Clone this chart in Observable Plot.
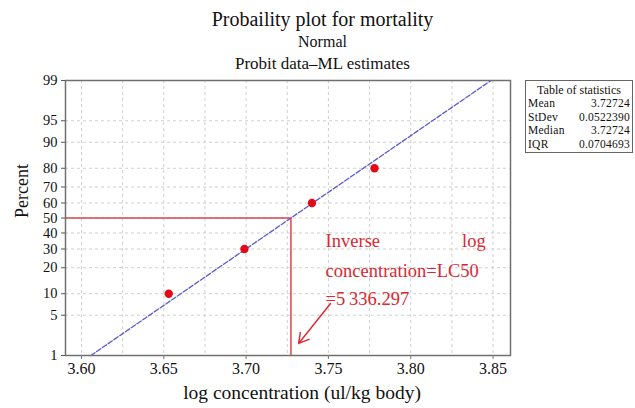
<!DOCTYPE html>
<html>
<head>
<meta charset="utf-8">
<script src="https://cdn.jsdelivr.net/npm/d3@7"></script>
<script src="https://cdn.jsdelivr.net/npm/@observablehq/plot@0.6"></script>
<style>
  body { margin: 0; background: #fff; }
  #wrap { position: relative; width: 635px; height: 408px; font-family: "Liberation Serif", serif; color: #111; }
  .t { position: absolute; left: 5px; width: 635px; text-align: center; white-space: nowrap; }
  #stats { position: absolute; left: 525px; top: 80px; width: 102px; height: 68px; border: 1.5px solid #666; padding: 3px 2px 0px 2px; font-size: 11.5px; line-height: 13.4px; letter-spacing: 0.25px; }
  #stats .row { display: flex; justify-content: space-between; }
  #stats .head { text-align: center; letter-spacing: 0; font-size: 12px; }
</style>
</head>
<body>
<div id="wrap">
  <div id="chart"></div>
</div>
<script>
// ---- data ----
const logConc = [3.653, 3.699, 3.740, 3.778];
const mortalityPct = [10, 30, 60, 80];
const yTickPct = [1, 5, 10, 20, 30, 40, 50, 60, 70, 80, 90, 95, 99];
const xTickValues = [3.60, 3.65, 3.70, 3.75, 3.80, 3.85];
const xGridValues = [3.60, 3.625, 3.65, 3.675, 3.70, 3.725, 3.75, 3.775, 3.80, 3.825, 3.85];
const statNames = ["Mean", "StDev", "Median", "IQR"];
const statValues = ["3.72724", "0.0522390", "3.72724", "0.0704693"];
const fitMean = 3.72724;
const fitSd = 0.0522390;
const titleLines = ["Probaility plot for mortality", "Normal", "Probit data\u2013ML estimates"];
const annotationLeft = ["Inverse", "concentration=LC50", "=5\u2009336.297"];
const annotationLeftPct = [34.5, 18.3, 8.4];
const annotationRight = ["log"];
const annotationRightPct = [34.5];
const annotationX1 = 3.7483;
const annotationX2 = 3.8455;
const arrowFrom = {x: 3.7513, pct: 7.4};
const arrowTo = {x: 3.7319, pct: 1.69};

// inverse normal CDF (Acklam)
function probit(p) {
  const a = [-3.969683028665376e+01, 2.209460984245205e+02, -2.759285104469687e+02, 1.383577518672690e+02, -3.066479806614716e+01, 2.506628277459239e+00];
  const b = [-5.447609879822406e+01, 1.615858368580409e+02, -1.556989798598866e+02, 6.680131188771972e+01, -1.328068155288572e+01];
  const c = [-7.784894002430293e-03, -3.223964580411365e-01, -2.400758277161838e+00, -2.549732539343734e+00, 4.374664141464968e+00, 2.938163982698783e+00];
  const d = [7.784695709041462e-03, 3.224671290700398e-01, 2.445134137142996e+00, 3.754408661907416e+00];
  const pl = 0.02425, ph = 1 - pl;
  let q, r;
  if (p < pl) {
    q = Math.sqrt(-2 * Math.log(p));
    return (((((c[0]*q+c[1])*q+c[2])*q+c[3])*q+c[4])*q+c[5]) / ((((d[0]*q+d[1])*q+d[2])*q+d[3])*q+1);
  } else if (p <= ph) {
    q = p - 0.5; r = q*q;
    return (((((a[0]*r+a[1])*r+a[2])*r+a[3])*r+a[4])*r+a[5])*q / (((((b[0]*r+b[1])*r+b[2])*r+b[3])*r+b[4])*r+1);
  } else {
    q = Math.sqrt(-2 * Math.log(1 - p));
    return -(((((c[0]*q+c[1])*q+c[2])*q+c[3])*q+c[4])*q+c[5]) / ((((d[0]*q+d[1])*q+d[2])*q+d[3])*q+1);
  }
}
const z = pct => probit(pct / 100);

const points = logConc.map((x, i) => ({x, z: z(mortalityPct[i])}));
const zLo = z(1), zHi = z(99);
const fitLine = [zLo, zHi].map(zz => ({x: fitMean + fitSd * zz, z: zz}));
const xDomain = [3.5903, 3.8606];
const yTickZ = yTickPct.map(z);
const labelOf = new Map(yTickZ.map((v, i) => [v, String(yTickPct[i])]));
const leftNotes = annotationLeft.map((t, i) => ({t, z: z(annotationLeftPct[i])}));
const rightNotes = annotationRight.map((t, i) => ({t, z: z(annotationRightPct[i])}));

const red = "#dc2630";
const ruleRed = "#d9464c";
const noteStyle = {fill: red, fontSize: 18.5, fontFamily: "Liberation Serif, serif"};

const chart = Plot.plot({
  width: 635,
  height: 408,
  marginTop: 80,
  marginBottom: 53,
  marginLeft: 65,
  marginRight: 125,
  style: {fontFamily: "Liberation Serif, serif", fontSize: "16px", color: "#111", background: "transparent"},
  x: {domain: xDomain},
  y: {domain: [zLo, zHi]},
  marks: [
    Plot.ruleX(xGridValues, {stroke: "#cfcfcf", strokeDasharray: "3,3", strokeWidth: 1}),
    Plot.ruleY(yTickZ, {stroke: "#cfcfcf", strokeDasharray: "3,3", strokeWidth: 1}),
    Plot.line(fitLine, {x: "x", y: "z", stroke: "#5a5ad0", strokeWidth: 1.3, strokeDasharray: "5,2"}),
    Plot.ruleY([z(50)], {x1: xDomain[0], x2: fitMean, stroke: ruleRed, strokeWidth: 1.5}),
    Plot.ruleX([fitMean], {y1: zLo, y2: z(50), stroke: ruleRed, strokeWidth: 1.5}),
    Plot.dot(points, {x: "x", y: "z", r: 4.2, fill: "#e30a17", stroke: "none"}),
    Plot.text(leftNotes, {x: () => annotationX1, y: "z", text: "t", textAnchor: "start", ...noteStyle}),
    Plot.text(rightNotes, {x: () => annotationX2, y: "z", text: "t", textAnchor: "end", ...noteStyle}),
    Plot.arrow([0], {x1: arrowFrom.x, y1: z(arrowFrom.pct), x2: arrowTo.x, y2: z(arrowTo.pct), stroke: red, strokeWidth: 1.4, headLength: 12}),
    Plot.frame({stroke: "#707070", strokeWidth: 1.5}),
    Plot.axisX(xTickValues, {tickFormat: d3.format(".2f"), tickSize: 4, tickPadding: 3, stroke: "#777", fontSize: 16, label: null}),
    Plot.axisY(yTickZ, {tickFormat: v => labelOf.get(v), tickSize: 4, tickPadding: 4, stroke: "#555", fontSize: 14.5, label: null}),
    Plot.text(["log concentration (ul/kg body)"], {frameAnchor: "bottom", dx: 14, dy: 43, fontSize: 19.5, fill: "#111", text: d => d}),
    Plot.text(["Percent"], {frameAnchor: "left", dx: -43, rotate: -90, fontSize: 18, fill: "#111", text: d => d})
  ]
});
document.getElementById("chart").appendChild(chart);

const wrap = document.getElementById("wrap");
const tops = [8, 33, 54];
const sizes = [20, 16, 17];
titleLines.forEach((t, i) => {
  const el = document.createElement("div");
  el.className = "t";
  el.style.top = tops[i] + "px";
  el.style.fontSize = sizes[i] + "px";
  el.textContent = t;
  wrap.appendChild(el);
});
const box = document.createElement("div");
box.id = "stats";
box.innerHTML = `<div class="head">Table of statistics</div>` +
  statNames.map((n, i) => `<div class="row"><span>${n}</span><span>${statValues[i]}</span></div>`).join("");
wrap.appendChild(box);
</script>
</body>
</html>
